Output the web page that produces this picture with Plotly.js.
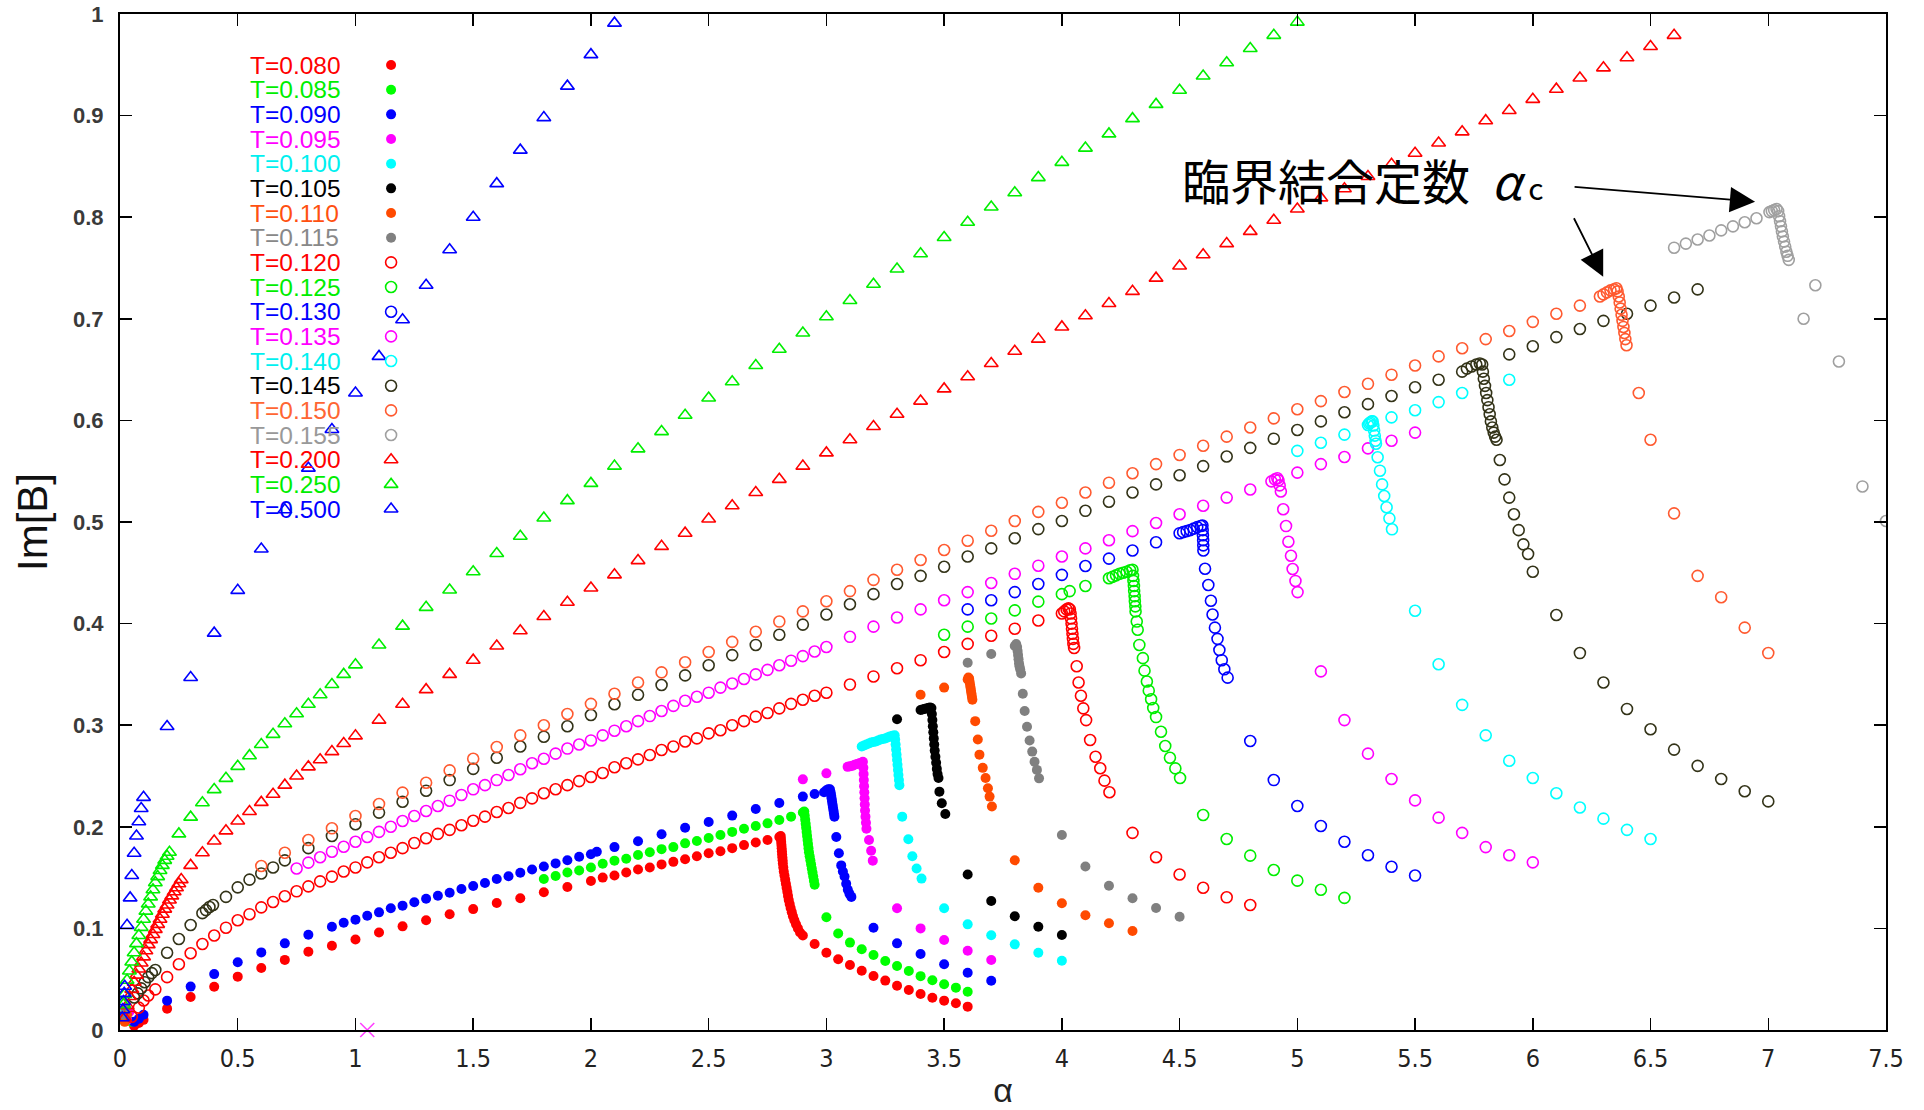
<!DOCTYPE html>
<html>
<head>
<meta charset="utf-8">
<script src="https://cdn.plot.ly/plotly-3.0.1.min.js"></script>
<style>
html,body{margin:0;padding:0;background:#fff;}
#chart{width:1924px;height:1110px;}
</style>
</head>
<body>
<div id="chart"></div>
<script>
// Im[B] versus coupling constant alpha, one point set per temperature T.
// Each entry is [alpha, Im[B]].

const T080 = [[0.06,0.004],[0.08,0.007],[0.10,0.010],[0.2,0.021],[0.3,0.0325],[0.4,0.0426],[0.5,0.0525],[0.6,0.061],[0.7,0.069],[0.8,0.077],[0.9,0.083],[1.0,0.089],[1.1,0.096],[1.2,0.102],[1.3,0.108],[1.4,0.114],[1.5,0.119],[1.6,0.125],[1.7,0.1296],[1.8,0.1355],[1.9,0.1407],[2.0,0.1467],[2.05,0.150],[2.1,0.152],[2.15,0.155],[2.2,0.158],[2.25,0.160],[2.3,0.163],[2.35,0.1655],[2.4,0.168],[2.45,0.171],[2.5,0.174],[2.55,0.176],[2.6,0.179],[2.65,0.182],[2.7,0.1845],[2.75,0.187],[2.8,0.190],
  [2.806,0.191],[2.807,0.188],[2.808,0.185],[2.809,0.182],[2.810,0.179],[2.811,0.176],[2.812,0.173],[2.813,0.170],[2.814,0.167],[2.815,0.164],[2.817,0.160],[2.819,0.156],[2.822,0.152],[2.825,0.148],[2.828,0.144],[2.831,0.140],[2.834,0.136],[2.837,0.132],[2.840,0.128],[2.844,0.124],[2.848,0.120],[2.853,0.116],[2.858,0.112],[2.864,0.108],[2.871,0.104],[2.879,0.100],[2.888,0.096],[2.900,0.093],
  [2.95,0.0846],[3.0,0.0761],[3.05,0.0696],[3.1,0.064],[3.15,0.0584],[3.2,0.0531],[3.25,0.0486],[3.3,0.0436],[3.35,0.0394],[3.4,0.0354],[3.45,0.0318],[3.5,0.0289],[3.55,0.0263],[3.6,0.023]];

const T085 = [[0.05,0.008],[1.8,0.1486],[1.85,0.1516],[1.9,0.155],[1.95,0.157],[2.0,0.160],[2.05,0.1637],[2.1,0.1667],[2.15,0.1686],[2.2,0.1722],[2.25,0.1749],[2.3,0.178],[2.35,0.180],[2.4,0.1837],[2.45,0.186],[2.5,0.189],[2.55,0.192],[2.6,0.195],[2.65,0.198],[2.7,0.2008],[2.75,0.2034],[2.8,0.2067],[2.85,0.21],[2.9,0.214],
  [2.906,0.215],[2.908,0.211],[2.910,0.207],[2.912,0.203],[2.914,0.199],[2.916,0.195],[2.918,0.191],[2.920,0.187],[2.922,0.183],[2.924,0.179],[2.926,0.175],[2.929,0.171],[2.932,0.167],[2.935,0.163],[2.938,0.159],[2.941,0.155],[2.944,0.151],[2.947,0.147],[2.950,0.143],
  [3.0,0.111],[3.05,0.095],[3.1,0.086],[3.15,0.0794],[3.2,0.0738],[3.25,0.0679],[3.3,0.063],[3.35,0.058],[3.4,0.053],[3.45,0.049],[3.5,0.045],[3.55,0.0417],[3.6,0.0377]];

const T090 = [[0.06,0.008],[0.08,0.011],[0.10,0.015],[0.2,0.0289],[0.3,0.0427],[0.4,0.055],[0.5,0.0666],[0.6,0.0764],[0.7,0.0853],[0.8,0.0938],[0.9,0.1017],[0.95,0.1056],[1.0,0.1086],[1.05,0.1125],[1.1,0.1158],[1.15,0.1198],[1.2,0.1224],[1.25,0.1257],[1.3,0.1292],[1.35,0.1322],[1.4,0.1351],[1.45,0.1388],[1.5,0.1417],[1.55,0.1447],[1.6,0.1486],[1.65,0.1513],[1.7,0.1548],[1.75,0.158],[1.8,0.161],[1.85,0.164],[1.9,0.167],[1.95,0.1706],[2.0,0.173],[2.025,0.1755],[2.1,0.180],[2.2,0.1857],[2.3,0.1926],[2.4,0.199],[2.5,0.2047],[2.6,0.211],[2.7,0.2175],[2.8,0.2234],[2.9,0.2297],[2.95,0.2323],
  [2.99,0.234],[3.0,0.236],[3.008,0.237],[3.015,0.237],[3.018,0.234],[3.020,0.231],[3.022,0.228],[3.024,0.225],[3.026,0.222],[3.028,0.219],[3.030,0.216],[3.032,0.213],[3.034,0.210],
  [3.042,0.190],[3.053,0.174],[3.063,0.162],[3.070,0.156],[3.077,0.151],[3.084,0.144],[3.091,0.138],[3.098,0.134],[3.106,0.131],
  [3.2,0.1007],[3.3,0.0853],[3.4,0.0748],[3.5,0.0647],[3.6,0.0564],[3.7,0.0485]];

const T095 = [[0.03,0.010],[0.04,0.018],[2.9,0.2467],[3.0,0.2526],[3.09,0.259],[3.1,0.2595],[3.11,0.260],[3.12,0.261],[3.13,0.2617],[3.14,0.2625],[3.148,0.263],[3.155,0.264],
  [3.157,0.258],[3.158,0.252],[3.159,0.246],[3.160,0.240],[3.161,0.234],[3.162,0.228],[3.163,0.222],[3.164,0.216],[3.166,0.210],[3.168,0.204],[3.170,0.198],
  [3.181,0.187],[3.19,0.1765],[3.197,0.1667],
  [3.3,0.1198],[3.4,0.100],[3.5,0.0886],[3.6,0.078],[3.7,0.0689]];

const T100 = [[0.01,0.010],[0.02,0.020],[3.15,0.279],[3.16,0.280],[3.17,0.281],[3.18,0.282],[3.19,0.283],[3.20,0.2835],[3.21,0.284],[3.22,0.285],[3.23,0.286],[3.24,0.2865],[3.25,0.287],[3.26,0.288],[3.27,0.289],[3.28,0.2895],[3.29,0.290],
  [3.292,0.286],[3.294,0.281],[3.296,0.276],[3.298,0.271],[3.300,0.266],[3.302,0.261],[3.304,0.256],[3.306,0.251],[3.308,0.246],[3.310,0.241],
  [3.322,0.21],[3.348,0.1877],[3.365,0.171],[3.383,0.159],[3.404,0.149],
  [3.5,0.1198],[3.6,0.104],[3.7,0.0932],[3.8,0.0843],[3.9,0.076],[4.0,0.0682]];

const T105 = [[0.02,0.012],[3.3,0.3058],[3.40,0.315],[3.408,0.3155],[3.416,0.316],[3.424,0.3165],[3.432,0.317],[3.440,0.3175],[3.446,0.317],
  [3.448,0.311],[3.450,0.305],[3.452,0.299],[3.454,0.293],[3.456,0.287],[3.458,0.281],[3.460,0.275],[3.463,0.269],[3.466,0.263],[3.469,0.257],[3.472,0.252],[3.476,0.248],
  [3.48,0.2346],[3.49,0.2231],[3.505,0.2126],
  [3.6,0.153],[3.7,0.127],[3.8,0.112],[3.9,0.1017],[4.0,0.0935]];

const T110 = [[0.02,0.008],[0.03,0.015],[3.4,0.330],[3.5,0.337],[3.600,0.345],[3.603,0.347],[3.606,0.346],[3.608,0.343],[3.610,0.340],[3.612,0.337],[3.614,0.334],[3.616,0.331],[3.618,0.328],[3.620,0.325],
  [3.632,0.304],[3.643,0.286],[3.65,0.271],[3.664,0.258],[3.676,0.248],[3.686,0.238],[3.693,0.2297],[3.703,0.22],
  [3.8,0.167],[3.9,0.140],[4.0,0.1247],[4.1,0.113],[4.2,0.105],[4.3,0.0974]];

const T115 = [[0.015,0.015],[0.025,0.022],[3.6,0.3615],[3.7,0.370],[3.800,0.378],[3.806,0.380],[3.810,0.377],[3.812,0.373],[3.814,0.369],[3.816,0.365],[3.818,0.361],[3.820,0.358],[3.823,0.355],[3.827,0.351],
  [3.834,0.331],[3.842,0.314],[3.852,0.2985],[3.863,0.285],[3.874,0.274],[3.884,0.264],[3.894,0.256],[3.903,0.2477],
  [4.0,0.192],[4.1,0.161],[4.2,0.142],[4.3,0.1296],[4.4,0.120],[4.5,0.1115]];

const T120 = [[0.05,0.013],[0.08,0.022],[0.10,0.029],[0.12,0.034],[0.15,0.040],[0.2,0.052],[0.25,0.0647],[0.3,0.0755],[0.35,0.0846],[0.4,0.093],[0.45,0.1007],[0.5,0.108],[0.55,0.114],[0.6,0.1207],[0.65,0.126],[0.7,0.1316],[0.75,0.1365],[0.8,0.1414],[0.85,0.1463],[0.9,0.151],[0.95,0.156],[1.0,0.160],[1.05,0.165],[1.1,0.170],[1.15,0.1745],[1.2,0.179],[1.25,0.184],[1.3,0.1887],[1.35,0.193],[1.4,0.197],[1.45,0.2015],[1.5,0.206],[1.55,0.210],[1.6,0.2146],[1.65,0.2185],[1.7,0.2235],[1.75,0.228],[1.8,0.233],[1.85,0.237],[1.9,0.241],[1.95,0.245],[2.0,0.249],[2.05,0.253],[2.1,0.2586],[2.15,0.2625],[2.2,0.2664],[2.25,0.2707],[2.3,0.2756],[2.35,0.279],[2.4,0.284],[2.45,0.287],[2.5,0.292],[2.55,0.295],[2.6,0.300],[2.65,0.304],[2.7,0.3084],[2.75,0.312],[2.8,0.3166],[2.85,0.321],[2.9,0.325],[2.95,0.329],[3.0,0.332],[3.1,0.340],[3.2,0.348],[3.3,0.356],[3.4,0.364],[3.5,0.372],[3.6,0.380],[3.7,0.388],[3.8,0.395],[3.9,0.403],[4.0,0.410],
  [4.010,0.412],[4.020,0.414],[4.028,0.415],[4.034,0.414],[4.037,0.410],[4.039,0.405],[4.041,0.400],[4.043,0.395],[4.045,0.390],[4.047,0.385],[4.049,0.380],[4.052,0.376],
  [4.063,0.358],[4.071,0.342],[4.081,0.329],[4.091,0.3166],[4.103,0.305],[4.12,0.2854],[4.143,0.269],[4.163,0.2576],[4.181,0.2454],[4.202,0.234],
  [4.3,0.194],[4.4,0.170],[4.5,0.153],[4.6,0.140],[4.7,0.1306],[4.8,0.123]];

const T125 = [[3.5,0.389],[3.6,0.397],[3.7,0.405],[3.8,0.413],[3.9,0.4216],[4.0,0.429],[4.033,0.432],[4.1,0.437],[4.2,0.4446],
  [4.215,0.446],[4.230,0.4475],[4.245,0.449],[4.260,0.450],[4.275,0.451],[4.290,0.4525],[4.300,0.453],
  [4.302,0.447],[4.304,0.442],[4.306,0.437],[4.307,0.432],[4.309,0.427],[4.310,0.422],[4.312,0.417],[4.313,0.412],
  [4.318,0.402],[4.322,0.394],[4.329,0.379],[4.344,0.366],[4.351,0.3537],[4.361,0.343],[4.369,0.334],[4.379,0.3255],[4.388,0.317],[4.40,0.308],[4.421,0.2936],[4.439,0.2795],[4.459,0.268],[4.482,0.2575],[4.502,0.248],
  [4.6,0.2116],[4.7,0.188],[4.8,0.1716],[4.9,0.1575],[5.0,0.147],[5.1,0.138],[5.2,0.130]];

const T130 = [[3.6,0.414],[3.7,0.423],[3.8,0.431],[3.9,0.439],[4.0,0.448],[4.1,0.4567],[4.2,0.464],[4.3,0.472],[4.4,0.480],[4.5,0.489],
  [4.515,0.490],[4.530,0.491],[4.545,0.492],[4.560,0.4935],[4.575,0.495],[4.590,0.496],[4.597,0.4965],
  [4.598,0.492],[4.599,0.487],[4.600,0.482],[4.6005,0.477],[4.601,0.472],
  [4.608,0.454],[4.622,0.438],[4.633,0.4225],[4.64,0.409],[4.65,0.396],[4.661,0.385],[4.669,0.374],[4.679,0.364],[4.69,0.355],[4.704,0.3468],
  [4.8,0.2844],[4.9,0.246],[5.0,0.2205],[5.1,0.2008],[5.2,0.1853],[5.3,0.172],[5.4,0.1607],[5.5,0.152]];

const T135 = [[0.75,0.159],[0.8,0.1647],[0.85,0.170],[0.9,0.1755],[0.95,0.1804],[1.0,0.1853],[1.05,0.190],[1.1,0.195],[1.15,0.200],[1.2,0.2057],[1.25,0.2106],[1.3,0.2156],[1.35,0.2205],[1.4,0.2257],[1.45,0.2313],[1.5,0.2369],[1.55,0.241],[1.6,0.246],[1.65,0.251],[1.7,0.2566],[1.75,0.2625],[1.8,0.267],[1.85,0.272],[1.9,0.277],[1.95,0.281],[2.0,0.285],[2.05,0.290],[2.1,0.2946],[2.15,0.299],[2.2,0.304],[2.25,0.309],[2.3,0.314],[2.35,0.319],[2.4,0.324],[2.45,0.328],[2.5,0.332],[2.55,0.337],[2.6,0.341],[2.65,0.3455],[2.7,0.350],[2.75,0.3545],[2.8,0.359],[2.85,0.3635],[2.9,0.368],[2.95,0.3725],[3.0,0.377],[3.1,0.387],[3.2,0.397],[3.3,0.406],[3.4,0.414],[3.5,0.423],[3.6,0.431],[3.7,0.440],[3.8,0.449],[3.9,0.457],[4.0,0.466],[4.1,0.474],[4.2,0.482],[4.3,0.491],[4.4,0.499],[4.5,0.5076],[4.6,0.516],[4.7,0.524],[4.8,0.532],
  [4.89,0.540],[4.905,0.542],[4.915,0.543],[4.92,0.541],[4.925,0.536],[4.93,0.530],
  [4.94,0.5125],[4.952,0.496],[4.962,0.4806],[4.973,0.4668],[4.98,0.4537],[4.992,0.442],[5.001,0.431],
  [5.0,0.5486],[5.1,0.557],[5.2,0.564],[5.3,0.5725],[5.4,0.580],[5.5,0.588],
  [5.1,0.353],[5.2,0.305],[5.3,0.272],[5.4,0.247],[5.5,0.226],[5.6,0.209],[5.7,0.194],[5.8,0.180],[5.9,0.172],[6.0,0.165]];

const T140 = [[5.0,0.570],[5.1,0.578],[5.2,0.586],
  [5.300,0.5955],[5.305,0.597],[5.310,0.598],[5.316,0.599],[5.320,0.599],[5.323,0.595],[5.326,0.590],[5.329,0.585],[5.332,0.580],[5.334,0.577],
  [5.341,0.5637],[5.351,0.5505],[5.36,0.537],[5.369,0.5256],[5.379,0.5145],[5.391,0.5036],[5.402,0.4928],
  [5.5,0.4127],[5.6,0.360],[5.7,0.32],[5.8,0.29],[5.9,0.265],[6.0,0.248],[6.1,0.233],[6.2,0.219],[6.3,0.208],[6.4,0.197],[6.5,0.188],
  [5.4,0.603],[5.5,0.610],[5.6,0.618],[5.7,0.627],[5.9,0.640]];

const T145 = [[0.06,0.032],[0.075,0.036],[0.09,0.041],[0.105,0.047],[0.12,0.052],[0.135,0.056],[0.15,0.059],[0.2,0.076],[0.25,0.0896],[0.3,0.1033],[0.35,0.115],[0.365,0.118],[0.38,0.121],[0.395,0.123],[0.45,0.131],[0.5,0.1404],[0.55,0.148],[0.6,0.154],[0.65,0.160],[0.7,0.167],[0.8,0.179],[0.9,0.191],[1.0,0.2025],[1.1,0.214],[1.2,0.2247],[1.3,0.2355],[1.4,0.246],[1.5,0.257],[1.6,0.268],[1.7,0.279],[1.8,0.2887],[1.9,0.299],[2.0,0.310],[2.1,0.3206],[2.2,0.33],[2.3,0.3396],[2.4,0.349],[2.5,0.359],[2.6,0.369],[2.7,0.379],[2.8,0.389],[2.9,0.399],[3.0,0.409],[3.1,0.419],[3.2,0.429],[3.3,0.439],[3.4,0.447],[3.5,0.456],[3.6,0.466],[3.7,0.474],[3.8,0.484],[3.9,0.493],[4.0,0.501],[4.1,0.511],[4.2,0.520],[4.3,0.529],[4.4,0.537],[4.5,0.546],[4.6,0.555],[4.7,0.5645],[4.8,0.573],[4.9,0.582],[5.0,0.5905],[5.1,0.599],[5.2,0.608],[5.3,0.616],[5.4,0.624],[5.5,0.6326],[5.6,0.640],[5.7,0.648],
  [5.72,0.651],[5.74,0.653],[5.76,0.655],[5.775,0.656],[5.785,0.655],[5.788,0.648],[5.792,0.641],[5.797,0.634],[5.802,0.627],[5.807,0.620],[5.812,0.613],[5.817,0.606],[5.822,0.599],[5.828,0.593],[5.834,0.588],[5.840,0.584],[5.846,0.581],
  [5.86,0.561],[5.88,0.542],[5.90,0.524],[5.92,0.5076],[5.94,0.492],[5.96,0.478],[5.98,0.4685],[6.0,0.451],
  [6.1,0.4085],[6.2,0.371],[6.3,0.342],[6.4,0.316],[6.5,0.296],[6.6,0.276],[6.7,0.26],[6.8,0.247],[6.9,0.235],[7.0,0.225],
  [5.9,0.665],[6.0,0.673],[6.1,0.682],[6.2,0.690],[6.3,0.698],[6.4,0.705],[6.5,0.713],[6.6,0.721],[6.7,0.729]];

const T150 = [[0.6,0.1614],[0.7,0.1745],[0.8,0.187],[0.9,0.1985],[1.0,0.2106],[1.1,0.2224],[1.2,0.2336],[1.3,0.2434],[1.4,0.2555],[1.5,0.267],[1.6,0.2785],[1.7,0.290],[1.8,0.300],[1.9,0.311],[2.0,0.321],[2.1,0.331],[2.2,0.342],[2.3,0.352],[2.4,0.362],[2.5,0.372],[2.6,0.382],[2.7,0.392],[2.8,0.402],[2.9,0.412],[3.0,0.422],[3.1,0.432],[3.2,0.443],[3.3,0.453],[3.4,0.4626],[3.5,0.4724],[3.6,0.4816],[3.7,0.4914],[3.8,0.501],[3.9,0.510],[4.0,0.519],[4.1,0.529],[4.2,0.5387],[4.3,0.548],[4.4,0.557],[4.5,0.566],[4.6,0.575],[4.7,0.584],[4.8,0.593],[4.9,0.602],[5.0,0.611],[5.1,0.619],[5.2,0.628],[5.3,0.636],[5.4,0.645],[5.5,0.654],[5.6,0.663],[5.7,0.671],[5.8,0.680],[5.9,0.688],[6.0,0.697],[6.1,0.705],[6.2,0.713],
  [6.285,0.722],[6.30,0.724],[6.315,0.726],[6.33,0.728],[6.345,0.729],[6.355,0.730],[6.36,0.727],[6.365,0.722],[6.369,0.716],[6.373,0.710],[6.377,0.704],[6.381,0.698],[6.385,0.692],[6.389,0.686],[6.393,0.680],[6.398,0.674],
  [6.45,0.627],[6.5,0.581],[6.6,0.5085],[6.7,0.447],[6.8,0.426],[6.9,0.396],[7.0,0.371]];

const T155 = [[6.6,0.770],[6.65,0.774],[6.7,0.778],[6.75,0.782],[6.8,0.787],[6.85,0.791],[6.9,0.795],[6.95,0.799],
  [7.005,0.805],[7.015,0.806],[7.025,0.807],[7.035,0.808],[7.042,0.806],[7.046,0.801],[7.050,0.796],[7.054,0.791],[7.058,0.786],[7.062,0.781],[7.067,0.776],[7.072,0.771],[7.077,0.766],[7.082,0.762],[7.087,0.758],
  [7.15,0.700],[7.2,0.733],[7.3,0.658],[7.4,0.535],[7.5,0.501]];

const T200 = [[0.02,0.012],[0.03,0.024],[0.04,0.033],[0.05,0.040],[0.06,0.047],[0.07,0.054],[0.08,0.060],[0.09,0.066],[0.10,0.072],[0.11,0.078],[0.12,0.084],[0.13,0.089],[0.14,0.094],[0.15,0.099],[0.16,0.104],[0.17,0.109],[0.18,0.114],[0.19,0.119],[0.20,0.123],[0.21,0.128],[0.22,0.132],[0.23,0.136],[0.24,0.140],[0.25,0.144],[0.26,0.148],
  [0.3,0.162],[0.35,0.1745],[0.4,0.186],[0.45,0.196],[0.5,0.2057],[0.55,0.215],[0.6,0.224],[0.65,0.232],[0.7,0.241],[0.75,0.250],[0.8,0.259],[0.85,0.266],[0.9,0.274],[0.95,0.282],[1.0,0.2895],[1.1,0.305],[1.2,0.3206],
  [1.3,0.335],[1.4,0.350],[1.5,0.364],[1.6,0.378],[1.7,0.393],[1.8,0.407],[1.9,0.421],[2.0,0.435],[2.1,0.448],[2.2,0.462],[2.3,0.476],[2.4,0.489],[2.5,0.503],[2.6,0.516],[2.7,0.529],[2.8,0.542],[2.9,0.555],[3.0,0.568],[3.1,0.581],[3.2,0.594],[3.3,0.606],[3.4,0.619],[3.5,0.631],[3.6,0.643],[3.7,0.656],[3.8,0.668],[3.9,0.680],[4.0,0.692],[4.1,0.703],[4.2,0.715],[4.3,0.727],[4.4,0.740],
  [4.5,0.752],[4.6,0.763],[4.7,0.774],[4.8,0.786],[4.9,0.797],[5.0,0.808],[5.1,0.819],[5.2,0.828],[5.3,0.840],[5.4,0.852],[5.5,0.863],[5.6,0.873],[5.7,0.884],[5.8,0.895],[5.9,0.905],[6.0,0.916],[6.1,0.926],[6.2,0.937],[6.3,0.947],[6.4,0.957],[6.5,0.968],[6.6,0.979]];

const T250 = [[0.015,0.025],[0.02,0.035],[0.03,0.049],[0.04,0.058],[0.05,0.067],[0.06,0.076],[0.07,0.085],[0.08,0.093],[0.09,0.101],[0.10,0.109],[0.11,0.117],[0.12,0.124],[0.13,0.131],[0.14,0.138],[0.15,0.145],[0.16,0.151],[0.17,0.157],[0.18,0.162],[0.19,0.167],[0.20,0.171],[0.21,0.175],
  [0.25,0.193],[0.3,0.2095],[0.35,0.2236],[0.4,0.2366],[0.45,0.2477],[0.5,0.2595],[0.55,0.270],[0.6,0.281],[0.65,0.291],[0.7,0.3014],[0.75,0.3113],[0.8,0.3206],[0.85,0.330],[0.9,0.340],[0.95,0.350],[1.0,0.3594],[1.1,0.379],[1.2,0.3975],
  [1.3,0.416],[1.4,0.433],[1.5,0.451],[1.6,0.469],[1.7,0.486],[1.8,0.504],[1.9,0.521],[2.0,0.538],[2.1,0.555],[2.2,0.572],[2.3,0.589],[2.4,0.605],[2.5,0.622],[2.6,0.638],[2.7,0.654],[2.8,0.670],[2.9,0.686],[3.0,0.702],[3.1,0.718],[3.2,0.734],[3.3,0.749],[3.4,0.764],[3.5,0.780],[3.6,0.795],[3.7,0.810],[3.8,0.824],[3.9,0.839],[4.0,0.854],[4.1,0.868],[4.2,0.882],[4.3,0.897],[4.4,0.911],[4.5,0.925],[4.6,0.939],[4.7,0.952],[4.8,0.966],[4.9,0.979],[5.0,0.992]];

const T500 = [[0.01,0.012],[0.012,0.020],[0.015,0.028],[0.018,0.036],[0.02,0.043],[0.03,0.103],[0.043,0.130],[0.05,0.152],[0.06,0.174],[0.07,0.191],[0.08,0.205],[0.09,0.218],[0.10,0.229],
  [0.2,0.2987],[0.3,0.347],[0.4,0.3906],[0.5,0.4327],[0.6,0.4734],[0.7,0.512],[0.8,0.553],[0.9,0.591],[1.0,0.627],[1.1,0.663],[1.2,0.699],[1.3,0.733],[1.4,0.768],[1.5,0.800],[1.6,0.833],[1.7,0.866],[1.8,0.898],[1.9,0.929],[2.0,0.960],[2.1,0.991]];

// a single point marked on the alpha axis
const axisCross = [[1.05,0.0]];

// legend order, labels and drawing styles
const seriesList = [
  {label:'T=0.080', pts:T080, kind:'filled', color:'#ff0000', text:'#ff0000'},
  {label:'T=0.085', pts:T085, kind:'filled', color:'#00ff00', text:'#00ee00'},
  {label:'T=0.090', pts:T090, kind:'filled', color:'#0000ff', text:'#0000ff'},
  {label:'T=0.095', pts:T095, kind:'filled', color:'#ff00ff', text:'#ff00ff'},
  {label:'T=0.100', pts:T100, kind:'filled', color:'#00ffff', text:'#00f0f0'},
  {label:'T=0.105', pts:T105, kind:'filled', color:'#000000', text:'#000000'},
  {label:'T=0.110', pts:T110, kind:'filled', color:'#ff4a00', text:'#ff5010'},
  {label:'T=0.115', pts:T115, kind:'filled', color:'#808080', text:'#888888'},
  {label:'T=0.120', pts:T120, kind:'open', color:'#ff0000', text:'#ff0000'},
  {label:'T=0.125', pts:T125, kind:'open', color:'#00ee00', text:'#00ee00'},
  {label:'T=0.130', pts:T130, kind:'open', color:'#0000ff', text:'#0000ff'},
  {label:'T=0.135', pts:T135, kind:'open', color:'#ff00ff', text:'#ff00ff'},
  {label:'T=0.140', pts:T140, kind:'open', color:'#00ffff', text:'#00f0f0'},
  {label:'T=0.145', pts:T145, kind:'open', color:'#333318', text:'#000000'},
  {label:'T=0.150', pts:T150, kind:'open', color:'#ff5a30', text:'#ff6633'},
  {label:'T=0.155', pts:T155, kind:'open', color:'#a0a0a0', text:'#999999'},
  {label:'T=0.200', pts:T200, kind:'tri', color:'#ff0000', text:'#ff0000'},
  {label:'T=0.250', pts:T250, kind:'tri', color:'#00ee00', text:'#00ee00'},
  {label:'T=0.500', pts:T500, kind:'tri', color:'#0000ff', text:'#0000ff'}
];

const markerFor = {
  filled: c => ({symbol:'circle', size:10, color:c, line:{width:0}}),
  open:   c => ({symbol:'circle-open', size:11, color:c, line:{width:1.6, color:c}}),
  tri:    c => ({symbol:'triangle-up-open', size:12, color:c, line:{width:1.6, color:c}})
};

const traces = seriesList.map(s => ({
  type:'scatter', mode:'markers', name:s.label,
  x:s.pts.map(p => p[0]), y:s.pts.map(p => p[1]),
  marker:markerFor[s.kind](s.color), showlegend:false
}));

traces.push({
  type:'scatter', mode:'markers', name:'',
  x:axisCross.map(p => p[0]), y:axisCross.map(p => p[1]),
  marker:{symbol:'x-thin-open', size:14, color:'#ff40ff', line:{width:1.6, color:'#ff40ff'}},
  cliponaxis:false, showlegend:false
});

// hand-built key: label text on the left, symbol on the right
const KEY_TEXT_X = 0.0725, KEY_SYMBOL_X = 0.1535;
const rowY = i => (1030 - (65 + 24.67 * i)) / 1016;

seriesList.forEach((s, i) => {
  traces.push({
    type:'scatter', mode:'markers', xaxis:'x2', yaxis:'y2',
    x:[KEY_SYMBOL_X], y:[rowY(i)],
    marker:markerFor[s.kind](s.color), showlegend:false, hoverinfo:'skip'
  });
});

const keyLabels = seriesList.map((s, i) => ({
  xref:'paper', yref:'paper', x:KEY_TEXT_X, y:rowY(i),
  xanchor:'left', yanchor:'middle', showarrow:false, text:s.label,
  font:{family:'"Liberation Sans", Arial, sans-serif', size:24.5, color:s.text}
}));

const callouts = [
  {xref:'paper', yref:'paper', x:0.6005, y:0.8372, xanchor:'left', yanchor:'middle', showarrow:false,
   text:'臨界結合定数\u00a0\u00a0<i>α</i><span style="font-size:30px">\u00a0c</span>',
   font:{family:'"Noto Sans CJK JP", sans-serif', size:48, color:'#000'}},
  {x:6.944, y:0.8153, xref:'x', yref:'y', ax:-182, ay:-15, text:'', showarrow:true,
   arrowhead:2, arrowsize:2.8, arrowwidth:1.8, arrowcolor:'#000', standoff:0},
  {x:6.299, y:0.7414, xref:'x', yref:'y', ax:-30, ay:-60, text:'', showarrow:true,
   arrowhead:2, arrowsize:2.8, arrowwidth:1.8, arrowcolor:'#000', standoff:0}
];

const layout = {
  width:1924, height:1110,
  margin:{l:120, r:38, t:14, b:80},
  paper_bgcolor:'#fff', plot_bgcolor:'#fff',
  showlegend:false,
  xaxis:{
    range:[0,7.5], tick0:0, dtick:0.5, ticks:'inside', ticklen:12, tickwidth:1.5, tickcolor:'#000',
    showline:true, linecolor:'#000', linewidth:2, mirror:'ticks',
    showgrid:false, zeroline:false, ticklabelstandoff:5,
    tickfont:{family:'"Liberation Sans Narrow", "DejaVu Sans Condensed", "Liberation Sans", Arial, sans-serif', size:25, color:'#222'},
    title:{text:'α', standoff:6, font:{family:'"Liberation Sans", Arial, sans-serif', size:34, color:'#222'}}
  },
  yaxis:{
    range:[0,1], tick0:0, dtick:0.1, ticks:'inside', ticklen:12, tickwidth:1.5, tickcolor:'#000',
    showline:true, linecolor:'#000', linewidth:2, mirror:'ticks',
    showgrid:false, zeroline:false, ticklabelstandoff:10,
    tickfont:{family:'"Liberation Sans", Arial, sans-serif', size:22, color:'#3a3a3a', weight:'bold'},
    title:{text:'Im[B]', standoff:12, font:{family:'"Liberation Sans", Arial, sans-serif', size:42, color:'#111'}}
  },
  xaxis2:{overlaying:'x', range:[0,1], visible:false, fixedrange:true},
  yaxis2:{overlaying:'y', range:[0,1], visible:false, fixedrange:true},
  annotations:keyLabels.concat(callouts)
};

Plotly.newPlot('chart', traces, layout, {displayModeBar:false, staticPlot:true});
</script>
</body>
</html>
